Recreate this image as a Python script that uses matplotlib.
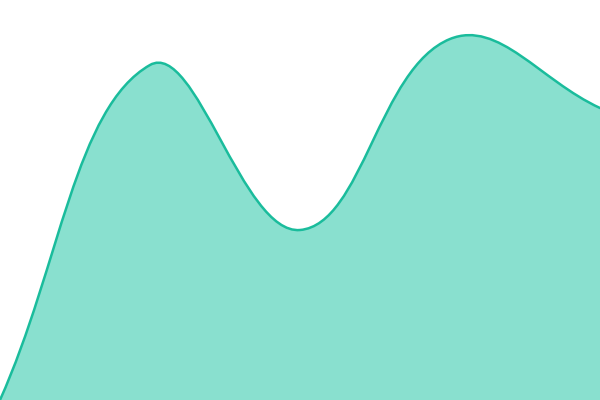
import matplotlib
matplotlib.use('Agg')

import matplotlib.pyplot as plt
import numpy as np
from matplotlib.path import Path
from matplotlib.patches import PathPatch

# data: five evenly spaced points
positions = [0, 1, 2, 3, 4]
values = [0, 335, 170, 361, 292]

tension = 0.4
line_color = '#1abc9c'
fill_color = '#89e0cf'


def spline_controls(pts, t):
    # tension spline (neighbour based control points), in pixel space
    n = len(pts)
    cps = []
    for i in range(n):
        p0 = pts[max(i - 1, 0)]
        p1 = pts[i]
        p2 = pts[min(i + 1, n - 1)]
        d01 = np.hypot(*(p1 - p0))
        d12 = np.hypot(*(p2 - p1))
        s01 = d01 / (d01 + d12)
        s12 = d12 / (d01 + d12)
        fa = t * s01
        fb = t * s12
        cps.append((p1 - fa * (p2 - p0), p1 + fb * (p2 - p0)))
    return cps


def curve_path(ax, x, y, closed=False):
    pts = ax.transData.transform(np.column_stack([x, y]))
    cps = spline_controls(pts, tension)
    verts = [pts[0]]
    codes = [Path.MOVETO]
    for i in range(len(pts) - 1):
        verts += [cps[i][1], cps[i + 1][0], pts[i + 1]]
        codes += [Path.CURVE4] * 3
    verts = list(ax.transData.inverted().transform(np.array(verts)))
    if closed:
        verts += [(x[-1], 0), (x[0], 0), (x[0], y[0])]
        codes += [Path.LINETO, Path.LINETO, Path.CLOSEPOLY]
    return Path(verts, codes)


fig = plt.figure(figsize=(6, 4), dpi=100)
ax = fig.add_axes([0, 0, 1, 1])
ax.set_xlim(0, 4)
ax.set_ylim(0, 400)
ax.axis('off')

ax.add_patch(PathPatch(curve_path(ax, positions, values, closed=True),
                       facecolor=fill_color, edgecolor='none'))
ax.add_patch(PathPatch(curve_path(ax, positions, values), facecolor='none',
                       edgecolor=line_color, linewidth=1.8, capstyle='round'))

fig.savefig('out.png', dpi=100)
